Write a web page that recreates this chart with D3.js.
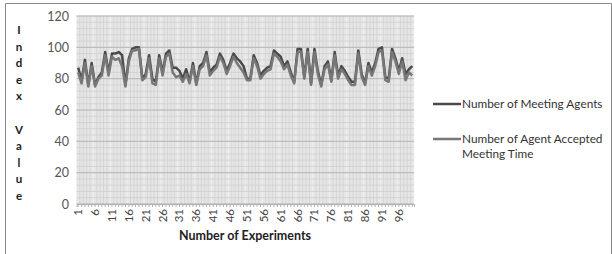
<!DOCTYPE html>
<html>
<head>
<meta charset="utf-8">
<script src="https://cdn.jsdelivr.net/npm/d3@7"></script>
<style>
  body { margin: 0; background: #fff; }
  svg { display: block; font-family: Lato, "Open Sans", sans-serif; }
</style>
</head>
<body>
<svg id="chart" width="612" height="254"></svg>
<script>
// chart data
const experiments = d3.range(1, 101);
const meetingAgents = [
  87, 79, 92, 76, 90, 76, 81, 84, 97, 84,
  96, 96, 97, 95, 76, 93, 99, 100, 100, 80,
  83, 95, 80, 78, 95, 84, 96, 98, 87, 87,
  85, 80, 86, 78, 90, 77, 88, 90, 97, 84,
  87, 89, 96, 92, 85, 90, 96, 93, 91, 88,
  80, 80, 95, 90, 82, 85, 87, 88, 98, 96,
  94, 88, 91, 84, 78, 99, 99, 81, 99, 77,
  99, 85, 76, 88, 91, 79, 97, 82, 88, 85,
  81, 78, 78, 98, 83, 77, 90, 84, 90, 99,
  100, 81, 80, 99, 93, 85, 93, 83, 86, 88
];
const acceptedTime = [
  84, 77, 90, 75, 88, 75, 80, 82, 95, 82,
  94, 92, 93, 88, 75, 91, 98, 98, 99, 79,
  81, 93, 77, 76, 93, 82, 94, 96, 84, 81,
  82, 78, 83, 77, 88, 76, 86, 88, 95, 82,
  85, 87, 94, 90, 83, 88, 94, 90, 87, 84,
  79, 79, 93, 88, 80, 83, 85, 86, 96, 94,
  91, 86, 89, 82, 77, 97, 97, 80, 97, 76,
  97, 83, 75, 86, 89, 78, 95, 80, 86, 83,
  79, 76, 76, 96, 81, 76, 88, 82, 88, 97,
  98, 79, 78, 97, 91, 83, 91, 79, 84, 82
];
const yTicks = [0, 20, 40, 60, 80, 100, 120];
const xTickLabels = d3.range(1, 100, 5);
const seriesColors = ['#4a4a4a', '#777777'];
const yTitle = ['I', 'n', 'd', 'e', 'x', '', 'V', 'a', 'l', 'u', 'e'];

const svg = d3.select('#chart');

// frame round the chart
svg.append('path')
  .attr('d', 'M5.5,254 V3.5 H611.5 V254')
  .attr('fill', 'none')
  .attr('stroke', '#8a8a8a')
  .attr('stroke-width', 1);

// scales
const x = d3.scaleBand().domain(experiments).range([76.5, 414]);
const y = d3.scaleLinear().domain([0, 120]).range([204, 16]);

// plot area with grid
svg.append('rect')
  .attr('x', 76.5).attr('y', y(120))
  .attr('width', 414 - 76.5).attr('height', y(0) - y(120))
  .attr('fill', '#e6e6e6');

const grid = svg.append('g');
grid.selectAll('line.vminor')
  .data(experiments)
  .join('line')
    .attr('class', 'vminor')
    .attr('x1', d => x(d) + x.bandwidth())
    .attr('x2', d => x(d) + x.bandwidth())
    .attr('y1', y(120)).attr('y2', y(0))
    .attr('stroke', d => (d % 5 === 0 ? '#f4f4f4' : '#cfcfcf'))
    .attr('stroke-width', 0.7);
grid.selectAll('line.hminor')
  .data(d3.range(0, 121, 4))
  .join('line')
    .attr('class', 'hminor')
    .attr('x1', 76.5).attr('x2', 414)
    .attr('y1', d => y(d)).attr('y2', d => y(d))
    .attr('stroke', '#cdcdcd')
    .attr('stroke-width', 0.7);
grid.selectAll('line.hmajor')
  .data(yTicks)
  .join('line')
    .attr('class', 'hmajor')
    .attr('x1', 76.5).attr('x2', 414)
    .attr('y1', d => y(d)).attr('y2', d => y(d))
    .attr('stroke', '#b8b8b8')
    .attr('stroke-width', 1);

// y axis
const yAxis = svg.append('g')
  .attr('transform', 'translate(69,0)')
  .call(d3.axisLeft(y).tickValues(yTicks).tickSize(0).tickPadding(0));
yAxis.select('.domain').remove();
yAxis.selectAll('text')
  .attr('font-size', 12.5)
  .attr('fill', '#555')
  .attr('font-family', 'Lato, sans-serif');

// x axis with small ticks at every category
const xAxis = svg.append('g')
  .attr('transform', `translate(0,${y(0)})`)
  .call(d3.axisBottom(x).tickValues(experiments).tickSize(3).tickFormat(d => (xTickLabels.includes(d) ? d : '')));
xAxis.select('.domain').attr('stroke', '#b0b0b0');
xAxis.selectAll('.tick line').attr('stroke', '#b0b0b0');
xAxis.selectAll('text')
  .attr('font-size', 11.5)
  .attr('fill', '#444')
  .attr('font-family', 'Lato, sans-serif')
  .attr('transform', 'rotate(-90)')
  .attr('text-anchor', 'end')
  .attr('x', -5)
  .attr('y', 0)
  .attr('dy', '0.35em');

// lines
const line = d3.line()
  .x((d, i) => x(experiments[i]) + x.bandwidth() / 2)
  .y(d => y(d));

[meetingAgents, acceptedTime].forEach((vals, k) => {
  svg.append('path')
    .datum(vals)
    .attr('fill', 'none')
    .attr('stroke', seriesColors[k])
    .attr('stroke-width', 2.5)
    .attr('stroke-linejoin', 'round')
    .attr('d', line);
});

// axis titles
svg.append('text')
  .attr('x', 245).attr('y', 240)
  .attr('text-anchor', 'middle')
  .attr('font-size', 12.5)
  .attr('font-weight', 'bold')
  .attr('fill', '#222')
  .text('Number of Experiments');

svg.append('g')
  .selectAll('text')
  .data(yTitle)
  .join('text')
    .attr('x', 19)
    .attr('y', (d, i) => 34 + i * 16.6)
    .attr('text-anchor', 'middle')
    .attr('font-size', 11.5)
    .attr('font-weight', 'bold')
    .attr('fill', '#222')
    .text(d => d);

// legend
const legend = svg.append('g').attr('font-size', 11.8).attr('fill', '#333');
const legendRows = [
  { y: 104, lines: ['Number of Meeting Agents'] },
  { y: 139, lines: ['Number of Agent Accepted', 'Meeting Time'] }
];
legendRows.forEach((row, k) => {
  legend.append('line')
    .attr('x1', 433).attr('x2', 461)
    .attr('y1', row.y).attr('y2', row.y)
    .attr('stroke', seriesColors[k])
    .attr('stroke-width', 2.5);
  row.lines.forEach((t, j) => {
    legend.append('text')
      .attr('x', 462)
      .attr('y', row.y + j * 15)
      .attr('dy', '0.35em')
      .text(t);
  });
});
</script>
</body>
</html>
